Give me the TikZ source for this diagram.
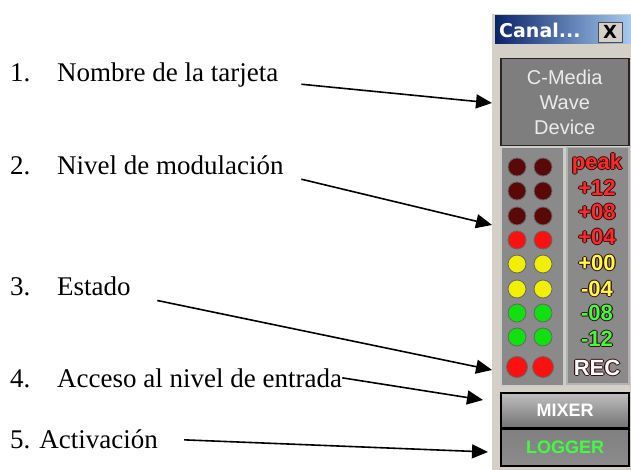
\documentclass[tikz,border=0pt]{standalone}
\usepackage{fontspec}
\setmainfont{Liberation Serif}
\newfontfamily\uifont{Liberation Sans}
\newfontfamily\titlefont{DejaVu Sans}
\usepackage{xcolor}
\usetikzlibrary{positioning,arrows.meta}

\definecolor{winface}{HTML}{D4D0C8}
\definecolor{navy}{HTML}{0A246A}
\definecolor{skyblue}{HTML}{A6CAF0}
\definecolor{panelgray}{HTML}{8A8A8A}
\definecolor{boxgray}{HTML}{7E7E7E}
\definecolor{ledoff}{HTML}{5A0808}
\definecolor{ledred}{HTML}{FF1010}
\definecolor{ledyellow}{HTML}{F0F000}
\definecolor{ledgreen}{HTML}{10E010}
\definecolor{lvred}{HTML}{FF2A2A}
\definecolor{lvyellow}{HTML}{FFFF40}
\definecolor{lvgreen}{HTML}{40FF40}
\definecolor{halo}{HTML}{3A1010}

% texto con contorno oscuro
\newcommand{\outlined}[1]{%
  \makebox[0pt][l]{\kern-1.2pt\textcolor{halo}{#1}}%
  \makebox[0pt][l]{\kern1.2pt\textcolor{halo}{#1}}%
  \makebox[0pt][l]{\raisebox{1.2pt}{\textcolor{halo}{#1}}}%
  \makebox[0pt][l]{\raisebox{-1.2pt}{\textcolor{halo}{#1}}}%
  #1}

\begin{document}
\begin{tikzpicture}[
    x=1pt, y=-1pt,
    font=\fontsize{27}{32}\selectfont,
    >={Triangle[length=16pt,width=14pt]},
    caption/.style={anchor=base west, inner sep=0pt},
    pointer/.style={->, line width=1.6pt},
    panel/.style={draw=black!85, line width=1.5pt, anchor=north west, inner sep=0pt},
    led/.style={circle, draw=black!60, line width=0.8pt, minimum size=18pt, inner sep=0pt},
    level/.style={font=\uifont\bfseries\fontsize{22}{22}\selectfont, inner sep=0pt},
    button/.style={draw=black, line width=2pt, anchor=north west, minimum width=128pt,
        font=\uifont\bfseries\fontsize{18}{18}\selectfont}
]
\useasboundingbox (0,0) rectangle (631,470);

% Textos de la izquierda
\node[caption] (lab1) at (10,82) {\makebox[47pt][l]{1.}Nombre de la tarjeta};
\node[caption] (lab2) at (10,175) {\makebox[47pt][l]{2.}Nivel de modulación};
\node[caption] (lab3) at (10,295) {\makebox[47pt][l]{3.}Estado};
\node[caption] (lab4) at (10,387) {\makebox[47pt][l]{4.}Acceso al nivel de entrada};
\node[caption] (lab5) at (10,448) {5. Activación};

% Ventana
\fill[winface] (490,12) rectangle (631,470);
\draw[white, line width=1.5pt] (491,470) -- (491,13) -- (631,13);

% Barra de título
\node[anchor=north west, left color=navy, right color=skyblue, minimum width=136pt,
      minimum height=28pt, inner sep=0pt] (titlebar) at (495,15) {};
\node[anchor=west, text=white, inner sep=0pt, font=\titlefont\bfseries\fontsize{19}{19}\selectfont]
      (title) at (499,30) {Canal...};
\node[fill=winface, draw=black!70, minimum width=24pt, minimum height=20pt, inner sep=0pt,
      font=\titlefont\bfseries\fontsize{18}{18}\selectfont] (close) at (610,32) {X};

% Nombre de la tarjeta
\node[panel, fill=boxgray, minimum width=128pt, minimum height=87pt, align=center,
      text=white!92!black, font=\uifont\fontsize{20}{25}\selectfont] (device) at (500,58)
      {C-Media\\Wave\\Device};

% Medidor
\node[panel, fill=panelgray, draw=white!80!black, minimum width=63pt, minimum height=238pt] (ledpanel) at (500,147) {};
\node[panel, fill=panelgray, draw=white!70!black, minimum width=62pt, minimum height=236pt] (vupanel) at (566,147) {};

\node[led, fill=ledoff] (r1a) at (517,167) {};
\node[led, fill=ledoff] (r1b) at (543,167) {};
\node[level, text=lvred] (r1lab) at (597,164) {\outlined{peak}};

\node[led, fill=ledoff] (r2a) at (517,191) {};
\node[led, fill=ledoff] (r2b) at (543,191) {};
\node[level, text=lvred] (r2lab) at (597,188) {\outlined{+12}};

\node[led, fill=ledoff] (r3a) at (517,216) {};
\node[led, fill=ledoff] (r3b) at (543,216) {};
\node[level, text=lvred] (r3lab) at (597,212) {\outlined{+08}};

\node[led, fill=ledred] (r4a) at (517,240) {};
\node[led, fill=ledred] (r4b) at (543,240) {};
\node[level, text=lvred] (r4lab) at (597,237) {\outlined{+04}};

\node[led, fill=ledyellow] (r5a) at (517,264) {};
\node[led, fill=ledyellow] (r5b) at (543,264) {};
\node[level, text=lvyellow] (r5lab) at (597,263) {\outlined{+00}};

\node[led, fill=ledyellow] (r6a) at (517,289) {};
\node[led, fill=ledyellow] (r6b) at (543,289) {};
\node[level, text=lvyellow] (r6lab) at (597,289) {\outlined{-04}};

\node[led, fill=ledgreen] (r7a) at (517,313) {};
\node[led, fill=ledgreen] (r7b) at (543,313) {};
\node[level, text=lvgreen] (r7lab) at (597,313) {\outlined{-08}};

\node[led, fill=ledgreen] (r8a) at (517,337) {};
\node[led, fill=ledgreen] (r8b) at (543,337) {};
\node[level, text=lvgreen] (r8lab) at (597,339) {\outlined{-12}};

\node[led, fill=ledred, minimum size=21pt] (reca) at (517,367) {};
\node[led, fill=ledred, minimum size=21pt] (recb) at (543,367) {};
\node[level, text=white] (reclab) at (597,368) {\outlined{REC}};

% Botones
\node[button, minimum height=35pt, top color=white!75!black, bottom color=black!55,
      text=white] (mixer) at (500,392) {MIXER};
\node[button, minimum height=37pt, top color=black!50, bottom color=black!45,
      text=lvgreen] (logger) at (500,428) {LOGGER};

% Flechas
\coordinate (tip1) at (492,103);
\coordinate (tip2) at (492,225);
\coordinate (tip3) at (492,370);
\coordinate (tip4) at (483,400);
\coordinate (tip5) at (488,452);

\draw[pointer, shorten <=23pt] (lab1.base east) -- (tip1);
\draw[pointer, shorten <=18pt] (lab2.base east) -- (tip2);
\draw[pointer, shorten <=27pt] (lab3.base east) -- (tip3);
\draw[pointer] (lab4.east) -- (tip4);
\draw[pointer, shorten <=26pt] (lab5.east) -- (tip5);

\end{tikzpicture}
\end{document}
